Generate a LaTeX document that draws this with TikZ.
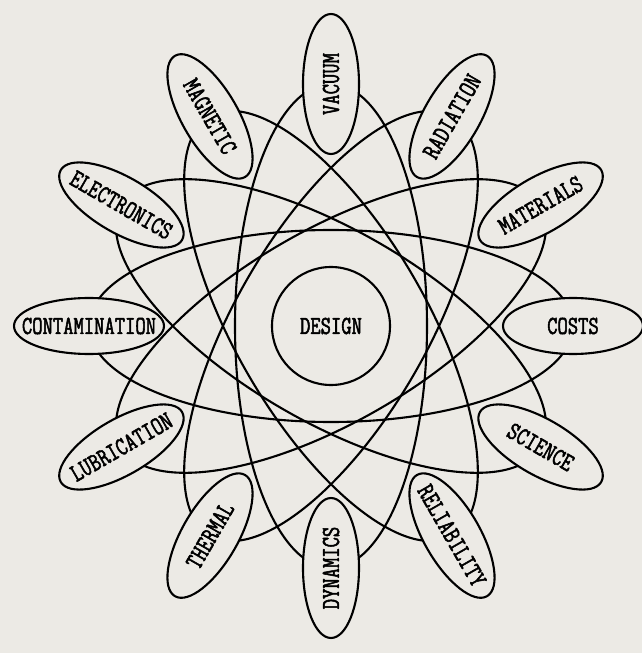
\documentclass[tikz,border=0pt]{standalone}
\usepackage{fontspec}
\newfontfamily\typefont[FakeStretch=0.77, FakeBold=2]{Latin Modern Mono}
\usepackage{xcolor}
\usetikzlibrary{shapes.geometric}
\definecolor{paper}{RGB}{236,234,229}
\tikzset{
  orbit/.style={draw, line width=2.1pt},
  topic/.style={draw, ellipse, line width=2.1pt, fill=paper, minimum width=140pt, minimum height=56pt, inner xsep=-25pt, inner ysep=0pt, font=\typefont\fontsize{26}{26}\selectfont},
  core/.style={draw, circle, line width=2.1pt, minimum size=118pt, font=\typefont\fontsize{26}{26}\selectfont}
}
\begin{document}
\begin{tikzpicture}[x=1pt, y=1pt]
  \fill[paper] (-331,-327) rectangle (311,326);
  \useasboundingbox (-331,-327) rectangle (311,326);
  \node[core] (design) at (0,0) {DESIGN};

  \draw[orbit] (design.center) ellipse [x radius=242, y radius=96];
  \draw[orbit, rotate around={30:(design.center)}] (design.center) ellipse [x radius=242, y radius=96];
  \draw[orbit, rotate around={60:(design.center)}] (design.center) ellipse [x radius=242, y radius=96];
  \draw[orbit, rotate around={90:(design.center)}] (design.center) ellipse [x radius=242, y radius=96];
  \draw[orbit, rotate around={120:(design.center)}] (design.center) ellipse [x radius=242, y radius=96];
  \draw[orbit, rotate around={150:(design.center)}] (design.center) ellipse [x radius=242, y radius=96];

  \node[topic, rotate=0] (costs) at (0:242) {COSTS};
  \node[topic, rotate=30] (materials) at (30:242) {MATERIALS};
  \node[topic, rotate=60] (radiation) at (60:242) {RADIATION};
  \node[topic, rotate=90] (vacuum) at (90:242) {VACUUM};
  \node[topic, rotate=-60] (magnetic) at (120:242) {MAGNETIC};
  \node[topic, rotate=-30] (electronics) at (150:242) {ELECTRONICS};
  \node[topic, minimum width=150pt] (contamination) at (180:242) {CONTAMINATION};
  \node[topic, rotate=30] (lubrication) at (210:242) {LUBRICATION};
  \node[topic, rotate=60] (thermal) at (240:242) {THERMAL};
  \node[topic, rotate=90] (dynamics) at (270:242) {DYNAMICS};
  \node[topic, rotate=-60] (reliability) at (300:242) {RELIABILITY};
  \node[topic, rotate=-30] (science) at (330:242) {SCIENCE};
\end{tikzpicture}
\end{document}
